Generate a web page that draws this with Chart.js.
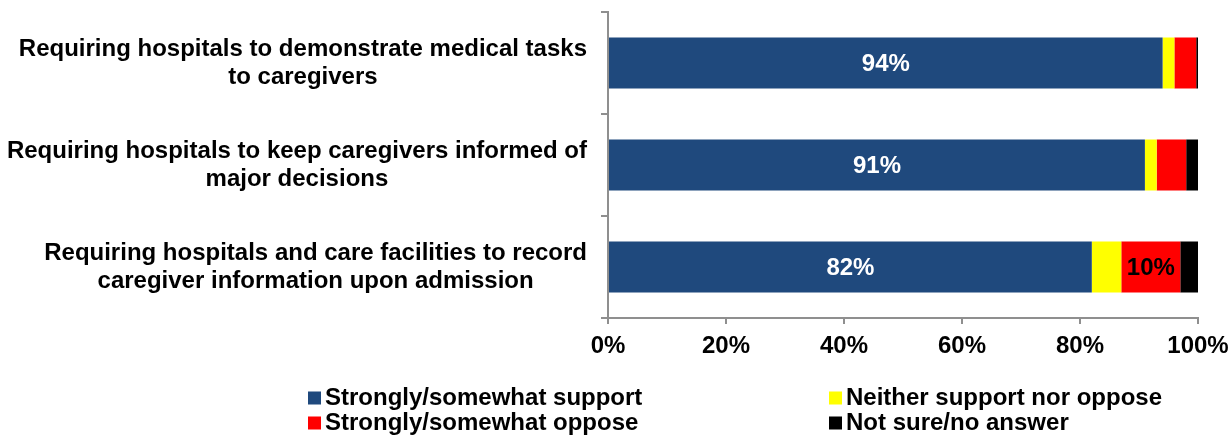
<!DOCTYPE html>
<html>
<head>
<meta charset="utf-8">
<script src="https://cdn.jsdelivr.net/npm/chart.js@4.4.1/dist/chart.umd.min.js"></script>
<style>
  html, body { margin: 0; padding: 0; background: #fff; }
</style>
</head>
<body>
<canvas id="policyChart" width="1231" height="435"></canvas>
<script>
// Survey items (each entry is one label, split into lines)
const categories = [
    ['Requiring hospitals to demonstrate medical tasks', 'to caregivers'],
    ['Requiring hospitals to keep caregivers informed of', 'major decisions'],
    ['Requiring hospitals and care facilities to record', 'caregiver information upon admission']
];

const seriesNames = [
    'Strongly/somewhat support',
    'Neither support nor oppose',
    'Strongly/somewhat oppose',
    'Not sure/no answer'
];

const supportValues = [94, 91, 82];
const neutralValues = [2, 2, 5];
const opposeValues = [3.7, 5, 10];
const notSureValues = [0.3, 2, 3];

const xTicks = [0, 20, 40, 60, 80, 100];

const seriesColors = ['#1F497D', '#FFFF00', '#FF0000', '#000000'];

const FONT = '"Liberation Sans", Arial, Helvetica, sans-serif';
const AXIS_GRAY = '#8f8f8f';

// Multi-line category labels: block right-aligned, each line centered in the block
const categoryLabelPlugin = {
    id: 'categoryLabels',
    afterDraw(chart) {
        const ctx = chart.ctx;
        const yScale = chart.scales.y;
        const lineHeight = 28;
        const rightEdge = 587;
        ctx.save();
        ctx.font = 'bold 24px ' + FONT;
        ctx.fillStyle = '#000';
        ctx.textAlign = 'center';
        ctx.textBaseline = 'middle';
        categories.forEach((lines, i) => {
            const cy = yScale.getPixelForValue(i);
            const widest = Math.max(...lines.map(l => ctx.measureText(l).width));
            const cx = rightEdge - widest / 2;
            const startY = cy - (lines.length - 1) * lineHeight / 2;
            lines.forEach((line, j) => {
                ctx.fillText(line, cx, startY + j * lineHeight);
            });
        });
        ctx.restore();
    }
};

// Percent labels inside the segments
const valueLabelPlugin = {
    id: 'valueLabels',
    afterDatasetsDraw(chart) {
        const ctx = chart.ctx;
        ctx.save();
        ctx.font = 'bold 24px ' + FONT;
        ctx.textAlign = 'center';
        ctx.textBaseline = 'middle';
        chart.data.datasets.forEach((ds, di) => {
            const meta = chart.getDatasetMeta(di);
            meta.data.forEach((bar, i) => {
                const v = ds.data[i];
                const show = di === 0 || (di === 2 && v >= 10);
                if (!show) return;
                const cx = (bar.x + bar.base) / 2;
                ctx.fillStyle = di === 0 ? '#fff' : '#000';
                ctx.fillText(Math.round(v) + '%', cx, bar.y + 1);
            });
        });
        ctx.restore();
    }
};

// Two-column legend under the axis
const legendPlugin = {
    id: 'gridLegend',
    afterDraw(chart) {
        const ctx = chart.ctx;
        const cols = [308, 829];
        const rows = [397.5, 422.5];
        ctx.save();
        ctx.font = 'bold 24px ' + FONT;
        ctx.textAlign = 'left';
        ctx.textBaseline = 'middle';
        chart.data.datasets.forEach((ds, k) => {
            const x = cols[k % 2];
            const y = rows[Math.floor(k / 2)];
            ctx.fillStyle = ds.backgroundColor;
            ctx.fillRect(x, y - 6, 13, 13);
            ctx.fillStyle = '#000';
            ctx.fillText(ds.label, x + 17, y + 1);
        });
        ctx.restore();
    }
};

const seriesData = [supportValues, neutralValues, opposeValues, notSureValues];

const ctx = document.getElementById('policyChart').getContext('2d');
const policyChart = new Chart(ctx, {
    type: 'bar',
    data: {
        labels: categories.map(l => l.join(' ')),
        datasets: seriesData.map((values, i) => ({
            label: seriesNames[i],
            data: values,
            backgroundColor: seriesColors[i],
            borderWidth: 0,
            barPercentage: 0.5,
            categoryPercentage: 1.0
        }))
    },
    options: {
        indexAxis: 'y',
        responsive: false,
        animation: false,
        layout: {
            padding: { top: 12, right: 33, bottom: 77, left: 0 }
        },
        plugins: {
            legend: { display: false },
            tooltip: { enabled: false }
        },
        scales: {
            x: {
                stacked: true,
                min: 0,
                max: 100,
                afterBuildTicks: (scale) => {
                    scale.ticks = xTicks.map(v => ({ value: v }));
                },
                afterFit: (scale) => {
                    scale.height = 40;
                    scale.paddingLeft = 0;
                    scale.paddingRight = 0;
                },
                border: { display: true, color: AXIS_GRAY, width: 2 },
                grid: {
                    drawOnChartArea: false,
                    drawTicks: true,
                    tickLength: 6,
                    color: AXIS_GRAY,
                    lineWidth: 2
                },
                ticks: {
                    padding: 8,
                    color: '#000',
                    font: { family: FONT, size: 24, weight: 'bold' },
                    callback: (v) => v + '%'
                }
            },
            y: {
                stacked: true,
                afterFit: (scale) => { scale.width = 608; },
                border: { display: true, color: AXIS_GRAY, width: 2 },
                grid: {
                    drawOnChartArea: false,
                    drawTicks: true,
                    tickLength: 7,
                    color: AXIS_GRAY,
                    lineWidth: 2,
                    offset: true
                },
                ticks: { display: false }
            }
        }
    },
    plugins: [categoryLabelPlugin, valueLabelPlugin, legendPlugin]
});
</script>
</body>
</html>
